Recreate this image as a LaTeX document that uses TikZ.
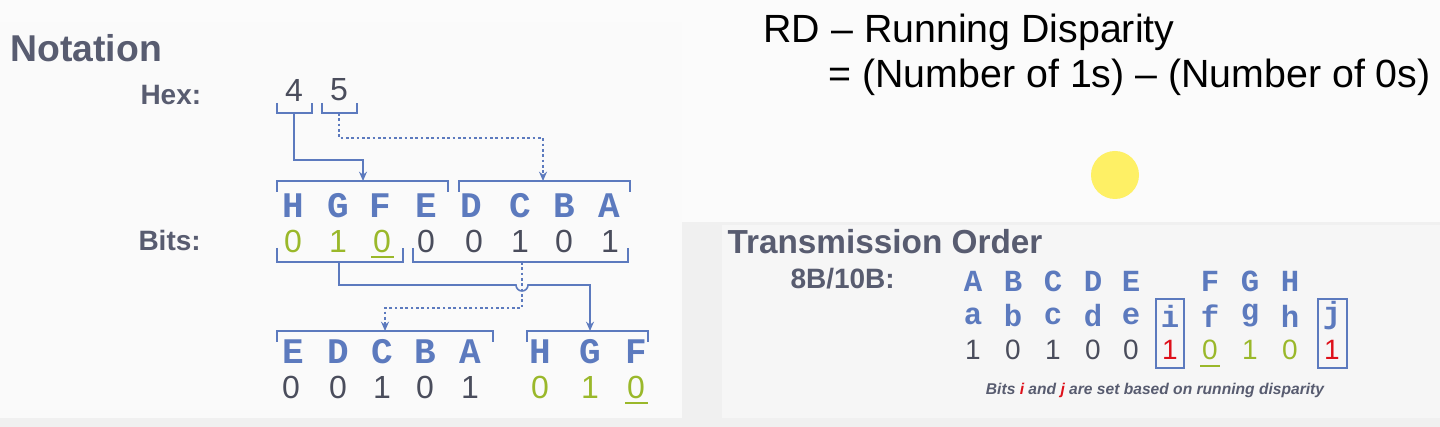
\documentclass[tikz,border=0pt]{standalone}
\usepackage{fontspec}
\setmainfont{Liberation Sans}
\setmonofont{Liberation Mono}
\usetikzlibrary{arrows.meta}
\definecolor{bitblue}{RGB}{92,122,190}
\definecolor{bitgreen}{RGB}{154,184,42}
\definecolor{bitdark}{RGB}{74,77,92}
\definecolor{bitred}{RGB}{222,16,26}
\definecolor{headgray}{RGB}{88,92,112}
\tikzset{every picture/.style={line width=0.75pt},
  letter/.style={inner sep=0pt,text=bitblue,font=\ttfamily\bfseries\fontsize{27}{27}\selectfont},
  smallletter/.style={inner sep=0pt,text=bitblue,font=\ttfamily\bfseries\fontsize{23}{23}\selectfont},
  digit/.style={inner sep=0pt,text=bitdark,font=\fontsize{24}{24}\selectfont},
  smalldigit/.style={inner sep=0pt,text=bitdark,font=\fontsize{21}{21}\selectfont},
  heading/.style={inner sep=0pt,anchor=west,text=headgray,font=\bfseries\fontsize{28}{28}\selectfont},
  label/.style={inner sep=0pt,anchor=west,text=headgray,font=\bfseries\fontsize{21}{21}\selectfont},
  brk/.style={draw=bitblue,line width=1pt},
  link/.style={draw=bitblue,line width=1.2pt,-{Stealth[length=7pt,width=6pt]}},
  dlink/.style={link,dash pattern=on 2pt off 2pt}}

\begin{document}
\begin{tikzpicture}[x=0.75pt,y=0.75pt,yscale=-1,xscale=1]
\useasboundingbox (0,0) rectangle (1440,427);
%Background
\fill[gray!12] (0,0) rectangle (1440,427);
\fill[white!97!gray] (0,0) rectangle (1440,222);
\fill[white!96!gray] (0,22) rectangle (682,418);
\fill[white!93!gray] (722,225) rectangle (1440,418);

% Text Node
\node[heading] (notation) at (10,48) {Notation};
\node[label] (hexlbl) at (140,95) {Hex:};
\node[label] (bitslbl) at (138,240) {Bits:};
\node[digit] (h4) at (294,90) {4};
\node[digit] (h5) at (339,90) {5};

%Hex brackets
\draw[brk] (277,103) -- (277,113) -- (312,113) -- (312,103);
\draw[brk] (322,103) -- (322,113) -- (357,113) -- (357,103);
\coordinate (f4) at (294,113);
\coordinate (f5) at (339,113);

%Top brackets
\draw[brk] (277,192) -- (277,181) -- (448,181) -- (448,192);
\draw[brk] (459,192) -- (459,181) -- (630,181) -- (630,192);
\coordinate (t1) at (363,181);
\coordinate (t2) at (543,181);
\draw[link] (f4) |- (329,160) -| (t1);
\draw[dlink] (f5) |- (440,138) -| (t2);

%Letters and bits
\foreach \l/\x in {H/293,G/338,F/380,E/426,D/471,C/520,B/564,A/609}
  \node[letter] (top\l) at (\x,206) {\l};
\foreach \b/\x/\c [count=\i] in {0/293/bitgreen,1/338/bitgreen,0/382/bitgreen,0/426/bitdark,0/474/bitdark,1/520/bitdark,0/564/bitdark,1/610/bitdark}
  \node[digit,text=\c] (tb\i) at (\x,241) {\b};
\draw[bitgreen,line width=2pt] (371,257) -- (394,257);

%Middle brackets
\draw[brk] (277,248) -- (277,262) -- (403,262) -- (403,248);
\draw[brk] (413,248) -- (413,262) -- (628,262) -- (628,248);
\coordinate (m1) at (339,262);
\coordinate (m2) at (522,262);
\coordinate (b1) at (385,331);
\coordinate (b2) at (590,331);
\draw[dlink] (m2) |- (450,308) -| (b1);
\draw[link] (m1) |- (516,285) arc[start angle=180,end angle=0,radius=6] -| (b2);

%Bottom brackets
\draw[brk] (277,342) -- (277,331) -- (493,331) -- (493,342);
\draw[brk] (527,342) -- (527,331) -- (648,331) -- (648,342);
\foreach \l/\x in {E/293,D/338,C/382,B/425,A/470,H/540,G/590,F/636}
  \node[letter] (bot\l) at (\x,352) {\l};
\foreach \b/\x/\c [count=\i] in {0/291/bitdark,0/338/bitdark,1/382/bitdark,0/425/bitdark,1/470/bitdark,0/540/bitgreen,1/590/bitgreen,0/636/bitgreen}
  \node[digit,text=\c] (bb\i) at (\x,387) {\b};
\draw[bitgreen,line width=2pt] (625,403) -- (648,403);

%Running disparity
\node[inner sep=0pt,anchor=west,font=\fontsize{29.5}{29.5}\selectfont] (rd) at (763,32) {RD -- Running Disparity};
\node[inner sep=0pt,anchor=west,font=\fontsize{29.5}{29.5}\selectfont] (rdeq) at (828,77) {= (Number of 1s) -- (Number of 0s)};
\fill[yellow!90!orange!60] (1115,175) circle (24);

%Transmission order
\node[heading,font=\bfseries\fontsize{25}{25}\selectfont] (txorder) at (727,242) {Transmission Order};
\node[label] (enc) at (790,279) {8B/10B:};
\foreach \l/\x in {A/973,B/1013,C/1053,D/1093,E/1131,F/1210,G/1250,H/1290}
  \node[smallletter] (tx\l) at (\x,281) {\l};
\foreach \l/\x in {a/973,b/1013,c/1053,d/1093,e/1131,i/1170,f/1210,g/1250,h/1290,j/1332}
  \node[smallletter] (rx\l) at (\x,316) {\l};
\foreach \b/\x/\c in {1/973/bitdark,0/1013/bitdark,1/1053/bitdark,0/1093/bitdark,0/1131/bitdark,1/1170/bitred,0/1210/bitgreen,1/1250/bitgreen,0/1290/bitgreen,1/1332/bitred}
  \node[smalldigit,text=\c] at (\x,350) {\b};
\draw[bitgreen,line width=2pt] (1200,366) -- (1220,366);
\draw[brk,line width=0.8pt] (1156,299) rectangle (1184,368);
\draw[brk,line width=0.8pt] (1318,299) rectangle (1347,368);
\node[inner sep=0pt,text=headgray,font=\bfseries\itshape\fontsize{11.7}{11.7}\selectfont] (note) at (1155,390) {Bits {\color{bitred}i} and {\color{bitred}j} are set based on running disparity};

\end{tikzpicture}
\end{document}
